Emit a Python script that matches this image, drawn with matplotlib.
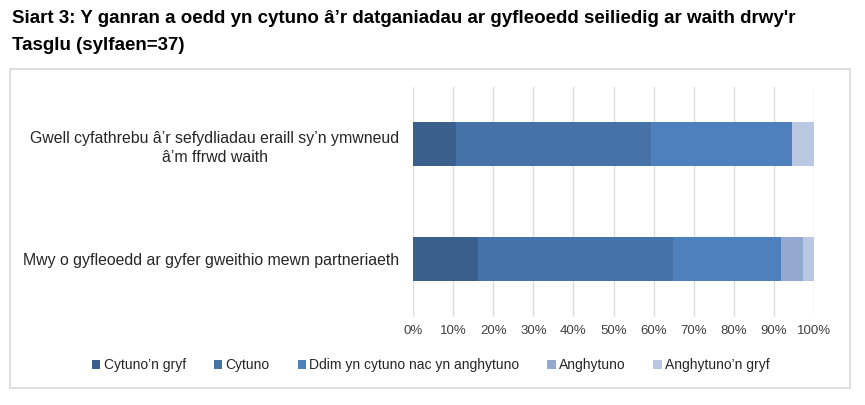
import matplotlib
matplotlib.use("Agg")
import matplotlib.pyplot as plt
from matplotlib.patches import Rectangle

plt.rcParams['font.family'] = ['Liberation Sans', 'DejaVu Sans']

categories = ["Gwell cyfathrebu â’r sefydliadau eraill sy’n ymwneud\nâ’m ffrwd waith",
              "Mwy o gyfleoedd ar gyfer gweithio mewn partneriaeth"]
series_names = ["Cytuno’n gryf", "Cytuno", "Ddim yn cytuno nac yn anghytuno",
                "Anghytuno", "Anghytuno’n gryf"]
cytuno_gryf = [10.8, 16.2]
cytuno = [48.6, 48.6]
ddim = [35.1, 27.0]
anghytuno = [0.0, 5.4]
anghytuno_gryf = [5.4, 2.7]
colors = ["#3B5F8C", "#4572A7", "#4E80BD", "#93A9D0", "#BAC7E2"]
xticks = [0, 10, 20, 30, 40, 50, 60, 70, 80, 90, 100]

fig = plt.figure(figsize=(8.65, 4.05), dpi=100)
fig.patches.append(Rectangle((10/865, 1-388/405), 840/865, 319/405,
                             transform=fig.transFigure, fill=False,
                             edgecolor="#D9D9D9", linewidth=1.2))
fig.text(12/865, 1-32/405, "Siart 3: Y ganran a oedd yn cytuno â’r datganiadau ar gyfleoedd seiliedig ar waith drwy'r\nTasglu (sylfaen=37)",
         fontsize=13.5, fontweight='bold', va='center', ha='left', linespacing=1.75)

ax = fig.add_axes([413/865, 1-316.5/405, 401/865, 230/405])
ypos = list(range(len(categories)))
left = [0.0] * len(categories)
for name, vals, c in zip(series_names,
                         [cytuno_gryf, cytuno, ddim, anghytuno, anghytuno_gryf], colors):
    ax.barh(ypos, vals, left=left, height=0.39, color=c, label=name, zorder=3)
    left = [l + v for l, v in zip(left, vals)]

ax.set_ylim(1.5, -0.5)
ax.set_xlim(0, 100)
ax.set_xticks(xticks)
ax.set_xticklabels([f"{t}%" for t in xticks], fontsize=9.5, color="#404040")
ax.set_yticks(ypos)
ax.set_yticklabels(categories, fontsize=11.4, color="#262626", multialignment='center',
                   linespacing=1.4)
ax.tick_params(length=0)
ax.tick_params(axis='x', pad=6)
ax.tick_params(axis='y', pad=10)
ax.grid(axis='x', color="#DEDEDE", linewidth=1, zorder=0)
for s in ax.spines.values():
    s.set_visible(False)

handles, labels = ax.get_legend_handles_labels()
fig.legend(handles, labels, loc='center', bbox_to_anchor=(431/865, 1-365/405), ncol=5,
           frameon=False, fontsize=10, handlelength=0.6, handleheight=0.6,
           handletextpad=0.25, columnspacing=2.0, labelcolor="#262626")

fig.savefig("out.png", dpi=100)
